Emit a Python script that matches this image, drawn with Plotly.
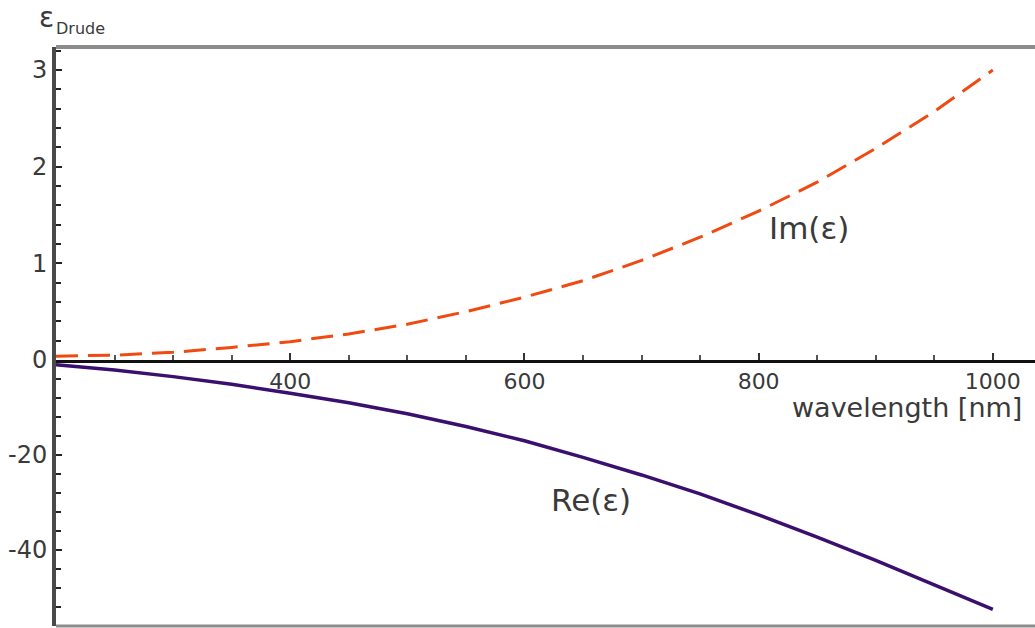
import plotly.graph_objects as go

# Drude permittivity of a metal versus wavelength
wavelength_nm = [200, 250, 300, 350, 400, 450, 500, 550, 600, 650,
                 700, 750, 800, 850, 900, 950, 1000]
re_eps = [-1.0, -2.1, -3.5, -5.1, -7.0, -9.0, -11.3, -14.0, -17.0, -20.5,
          -24.2, -28.2, -32.6, -37.3, -42.2, -47.3, -52.5]
im_eps = [0.04, 0.05, 0.08, 0.13, 0.19, 0.27, 0.37, 0.50, 0.65, 0.82,
          1.03, 1.27, 1.54, 1.84, 2.19, 2.57, 3.0]

im_ticks = [0, 1, 2, 3]
re_ticks = [-40, -20, 0]
re_ticklabels = ["-40", "-20", ""]
x_ticks = [400, 600, 800, 1000]

FONT = "DejaVu Sans"
TXT = "#3a3a3a"
W, H = 1035, 628
split = 0.4594

fig = go.Figure()
fig.add_trace(go.Scatter(x=wavelength_nm, y=im_eps, mode="lines",
                         line=dict(color="#f04a12", width=3, dash="22px,10px"),
                         xaxis="x", yaxis="y2", hoverinfo="skip"))
fig.add_trace(go.Scatter(x=wavelength_nm, y=re_eps, mode="lines",
                         line=dict(color="#3b0f6e", width=3.5),
                         xaxis="x2", yaxis="y", hoverinfo="skip"))

xrange = [200, 1036]
fig.update_layout(
    width=W, height=H, autosize=False,
    margin=dict(l=56, r=0, t=47, b=2, autoexpand=False),
    paper_bgcolor="white", plot_bgcolor="white",
    showlegend=False,
    xaxis=dict(domain=[0, 1], anchor="y2", range=xrange, automargin=False,
               showgrid=False, zeroline=False,
               showline=True, linecolor="#111", linewidth=3,
               tickmode="array", tickvals=x_ticks,
               ticks="inside", ticklen=7, tickwidth=2, tickcolor="#333",
               minor=dict(dtick=50, tick0=200, ticks="inside", ticklen=5,
                          tickwidth=2, tickcolor="#555"),
               tickfont=dict(family=FONT, size=22, color=TXT)),
    xaxis2=dict(domain=[0, 1], anchor="y", matches="x", range=xrange,
                automargin=False, showgrid=False, zeroline=False,
                showline=False, showticklabels=False, ticks=""),
    yaxis2=dict(domain=[split, 1], anchor="x", range=[0, 3.238],
                automargin=False, showgrid=False, zeroline=False,
                showline=True, linecolor="#4a4a4a", linewidth=4,
                tickmode="array", tickvals=im_ticks,
                ticks="inside", ticklen=6, tickwidth=2, tickcolor="#222",
                minor=dict(dtick=0.2, tick0=0, ticks="inside", ticklen=5,
                           tickwidth=2, tickcolor="#222"),
                tickfont=dict(family=FONT, size=24, color=TXT)),
    yaxis=dict(domain=[0, split], anchor="x2", range=[-56, 0],
               automargin=False, showgrid=False, zeroline=False,
               showline=True, linecolor="#4a4a4a", linewidth=4,
               tickmode="array", tickvals=re_ticks, ticktext=re_ticklabels,
               ticks="inside", ticklen=6, tickwidth=2, tickcolor="#222",
               minor=dict(dtick=4, tick0=0, ticks="inside", ticklen=5,
                          tickwidth=2, tickcolor="#222"),
               tickfont=dict(family=FONT, size=24, color=TXT)),
)

# frame lines along the top and bottom of the plotting area
fig.add_shape(type="line", xref="paper", yref="paper", x0=0, x1=1, y0=1, y1=1,
              line=dict(color="#8c8c8c", width=4))
fig.add_shape(type="line", xref="paper", yref="paper", x0=0, x1=1, y0=0, y1=0,
              line=dict(color="#8c8c8c", width=3))

fig.add_annotation(text="Im(ε)", x=843, y=1.37, xref="x", yref="y2",
                   showarrow=False, font=dict(family=FONT, size=31, color=TXT))
fig.add_annotation(text="Re(ε)", x=657, y=-29.5, xref="x2", yref="y",
                   showarrow=False, font=dict(family=FONT, size=31, color=TXT))
fig.add_annotation(text="wavelength [nm]", x=1027, y=-10.1, xref="x2", yref="y",
                   xanchor="right", showarrow=False,
                   font=dict(family=FONT, size=27, color=TXT))
# vertical axis symbol with its subscript
fig.add_annotation(text="ε", x=-0.0102, y=1.0518, xref="paper", yref="paper",
                   xanchor="center", yanchor="middle", showarrow=False,
                   font=dict(family=FONT, size=28, color=TXT))
fig.add_annotation(text="Drude", x=0.0255, y=1.0328, xref="paper", yref="paper",
                   xanchor="center", yanchor="middle", showarrow=False,
                   font=dict(family=FONT, size=16, color=TXT))

fig.write_html("out.html", config={"displayModeBar": False})
